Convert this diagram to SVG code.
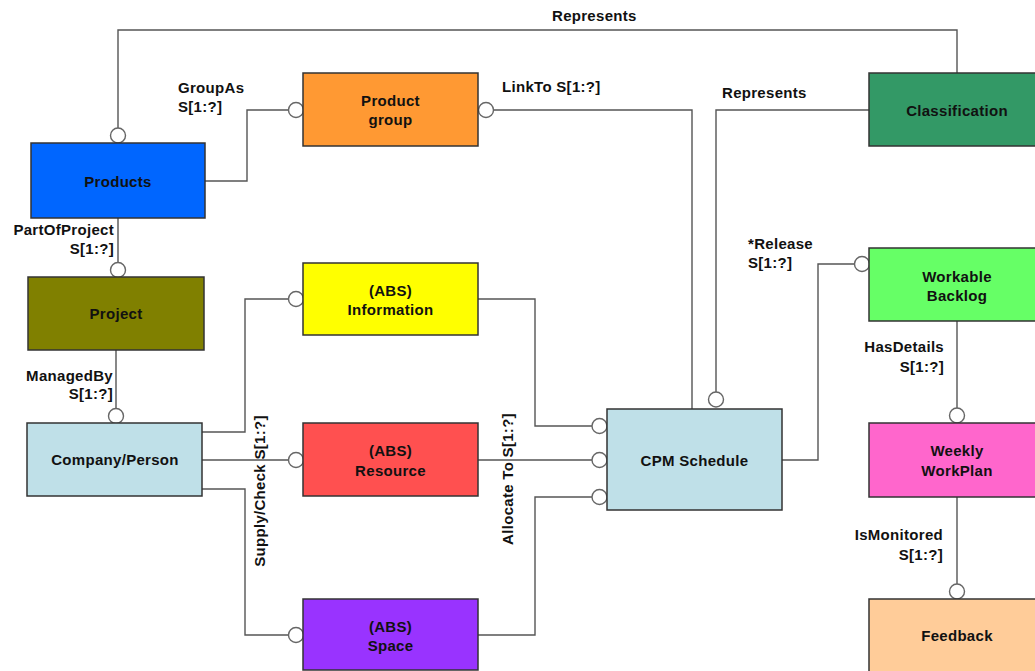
<svg xmlns="http://www.w3.org/2000/svg" width="1035" height="671" viewBox="0 0 1035 671">
<style>
.n rect{stroke:#333;stroke-width:1.5}
text{font-family:"Liberation Sans",Arial,sans-serif;font-weight:bold;font-size:15px;letter-spacing:0.3px;fill:#111}
.c{text-anchor:middle}
.r{text-anchor:end}
#connectors path{fill:none;stroke:#555;stroke-width:1.4}
#connectors circle{fill:#fff;stroke:#666;stroke-width:1.4}
</style>
<rect width="1035" height="671" fill="#fff"/>
<g id="connectors">
<path d="M118 128V30H957V73"/>
<path d="M205 181H247V110H289"/>
<path d="M118 218V263"/>
<path d="M493 110H692V409"/>
<path d="M869 110H716V392"/>
<path d="M782 460H818V264H855"/>
<path d="M957 321V408"/>
<path d="M957 497V584"/>
<path d="M116 350V409"/>
<path d="M202 432H245V299H289"/>
<path d="M202 460H289"/>
<path d="M202 489H245V635H289"/>
<path d="M478 299H535V426H592"/>
<path d="M478 460H592"/>
<path d="M478 635H535V497H592"/>
<circle cx="118" cy="135.5" r="7.5"/>
<circle cx="296" cy="110" r="7.5"/>
<circle cx="118" cy="270" r="7.5"/>
<circle cx="486" cy="110" r="7.5"/>
<circle cx="716" cy="399.5" r="7.5"/>
<circle cx="862" cy="264" r="7.5"/>
<circle cx="957" cy="415.5" r="7.5"/>
<circle cx="957" cy="591.5" r="7.5"/>
<circle cx="116" cy="416" r="7.5"/>
<circle cx="296" cy="299" r="7.5"/>
<circle cx="296" cy="460" r="7.5"/>
<circle cx="296" cy="635" r="7.5"/>
<circle cx="599.5" cy="426" r="7.5"/>
<circle cx="599.5" cy="460" r="7.5"/>
<circle cx="599.5" cy="497" r="7.5"/>
</g>
<g id="labels">
<text x="552" y="21">Represents</text>
<text x="178" y="93">GroupAs</text>
<text x="178" y="112">S[1:?]</text>
<text x="502" y="92">LinkTo S[1:?]</text>
<text x="722" y="98">Represents</text>
<text x="748" y="249">*Release</text>
<text x="748" y="268">S[1:?]</text>
<text class="r" x="114" y="235">PartOfProject</text>
<text class="r" x="114" y="254">S[1:?]</text>
<text class="r" x="113" y="381">ManagedBy</text>
<text class="r" x="113" y="399">S[1:?]</text>
<text class="r" x="944" y="352">HasDetails</text>
<text class="r" x="944" y="372">S[1:?]</text>
<text class="r" x="943" y="540">IsMonitored</text>
<text class="r" x="943" y="560">S[1:?]</text>
<text class="c" transform="translate(265 491) rotate(-90)">Supply/Check S[1:?]</text>
<text class="c" transform="translate(513 479) rotate(-90)">Allocate To S[1:?]</text>
</g>
<g id="products" class="n"><rect x="31" y="143" width="174" height="75" fill="#0066FF"/><text class="c" x="118" y="187">Products</text></g>
<g id="product-group" class="n"><rect x="303" y="73" width="175" height="73" fill="#FF9933"/><text class="c" x="390.5" y="106">Product</text><text class="c" x="390.5" y="125">group</text></g>
<g id="project" class="n"><rect x="28" y="277" width="176" height="73" fill="#808000"/><text class="c" x="116" y="319">Project</text></g>
<g id="information" class="n"><rect x="303" y="263" width="175" height="72" fill="#FFFF00"/><text class="c" x="390.5" y="296">(ABS)</text><text class="c" x="390.5" y="315">Information</text></g>
<g id="company-person" class="n"><rect x="27" y="423" width="175" height="73" fill="#BFE0E8"/><text class="c" x="115" y="465">Company/Person</text></g>
<g id="resource" class="n"><rect x="303" y="423" width="175" height="73" fill="#FF5050"/><text class="c" x="390.5" y="456">(ABS)</text><text class="c" x="390.5" y="476">Resource</text></g>
<g id="space" class="n"><rect x="303" y="599" width="175" height="71" fill="#9933FF"/><text class="c" x="390.5" y="632">(ABS)</text><text class="c" x="390.5" y="651">Space</text></g>
<g id="cpm-schedule" class="n"><rect x="607" y="409" width="175" height="101" fill="#BFE0E8"/><text class="c" x="694.5" y="466">CPM Schedule</text></g>
<g id="classification" class="n"><rect x="869" y="73" width="176" height="73" fill="#339966"/><text class="c" x="957" y="116">Classification</text></g>
<g id="workable-backlog" class="n"><rect x="869" y="248" width="176" height="73" fill="#66FF66"/><text class="c" x="957" y="282">Workable</text><text class="c" x="957" y="301">Backlog</text></g>
<g id="weekly-workplan" class="n"><rect x="869" y="423" width="176" height="74" fill="#FF66CC"/><text class="c" x="957" y="456">Weekly</text><text class="c" x="957" y="476">WorkPlan</text></g>
<g id="feedback" class="n"><rect x="869" y="599" width="176" height="73" fill="#FFCC99"/><text class="c" x="957" y="641">Feedback</text></g>
</svg>
